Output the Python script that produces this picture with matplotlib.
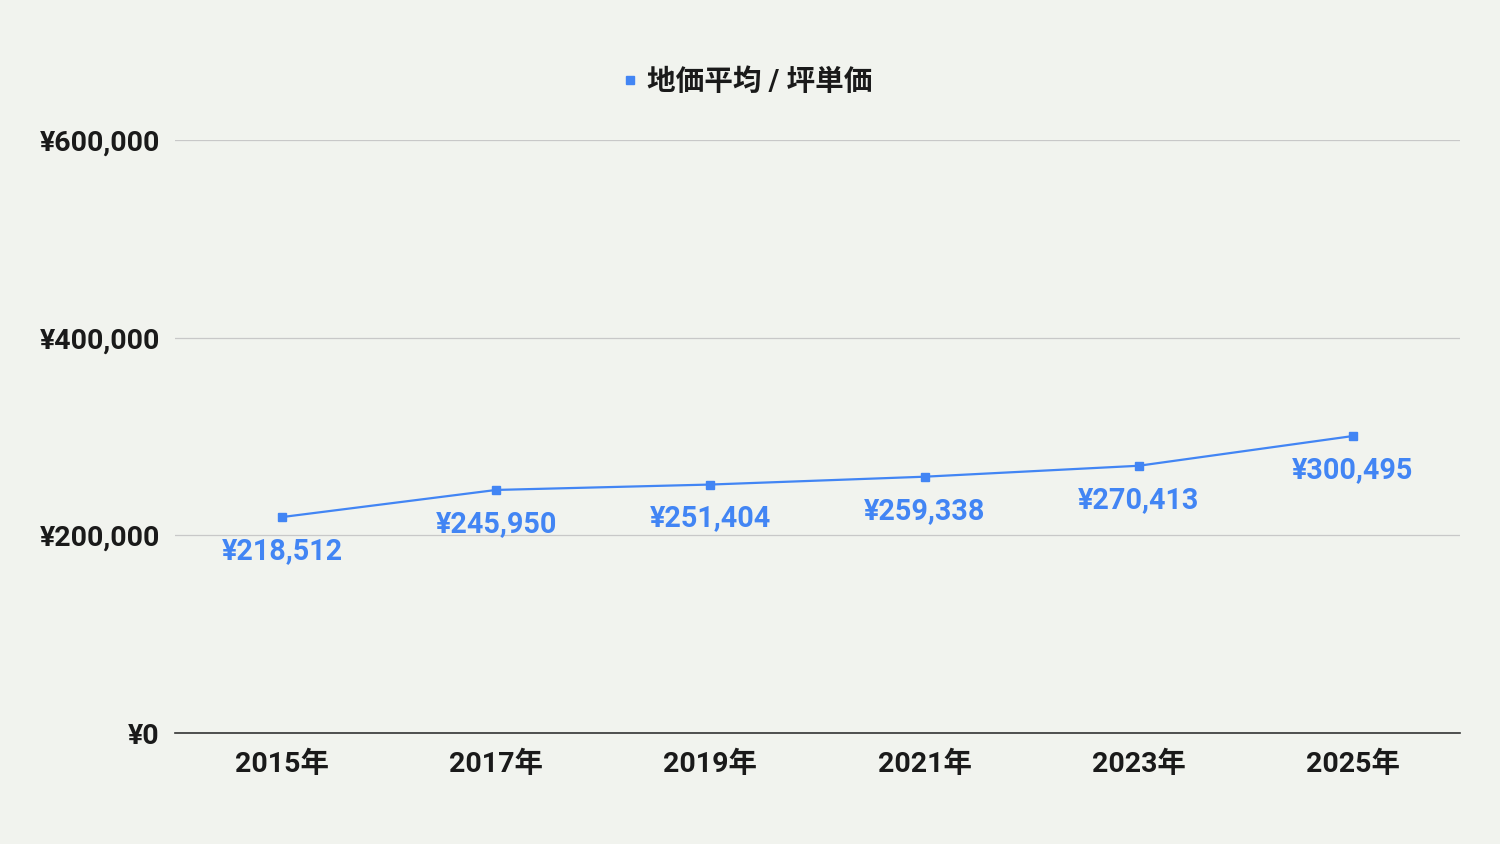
import matplotlib
matplotlib.use("Agg")
import matplotlib.pyplot as plt
from matplotlib.ticker import FuncFormatter

plt.rcParams['font.family'] = ['Roboto', 'Noto Sans CJK JP', 'DejaVu Sans']

years = ['2015年', '2017年', '2019年', '2021年', '2023年', '2025年']
prices = [218512, 245950, 251404, 259338, 270413, 300495]
series_name = '地価平均 / 坪単価'

bg = '#f1f3ee'
blue = '#4285f4'

fig = plt.figure(figsize=(15, 8.44), dpi=100, facecolor=bg)
ax = fig.add_axes([0.1167, 0.1315, 0.8566, 0.7026])
ax.set_facecolor(bg)

x = range(len(years))
ax.plot(x, prices, color=blue, lw=1.6, marker='s', ms=6, label=series_name)

for xi, v in zip(x, prices):
    ax.annotate('¥{:,}'.format(v), (xi, v), xytext=(0, -24.5), textcoords='offset points',
                ha='center', va='center', fontsize=20.7, fontweight='bold', color=blue)

ax.set_xlim(-0.5, len(years) - 0.5)
ax.set_ylim(0, 600000)
ax.set_yticks([0, 200000, 400000, 600000])
ax.yaxis.set_major_formatter(FuncFormatter(lambda v, p: '¥{:,}'.format(int(v))))
ax.set_xticks(list(x))
ax.set_xticklabels(years)
ax.tick_params(axis='y', length=0, labelsize=20.5, pad=11)
ax.tick_params(axis='x', length=0, labelsize=20.5, pad=13)
for lab in ax.get_xticklabels() + ax.get_yticklabels():
    lab.set_fontweight('bold')
    lab.set_color('#1a1a1a')

ax.grid(axis='y', color='#c8c8c8', lw=0.9)
ax.set_axisbelow(True)
for s in ['top', 'right', 'left']:
    ax.spines[s].set_visible(False)
ax.spines['bottom'].set_color('#333333')
ax.spines['bottom'].set_linewidth(1.2)

leg = fig.legend(handles=[plt.Line2D([], [], color=blue, marker='s', ls='none', ms=6)],
                 labels=[series_name], loc='center', bbox_to_anchor=(0.4967, 0.903),
                 frameon=False, handletextpad=0.2, handlelength=0.8,
                 prop={'weight': 'bold', 'size': 20.6})
for t in leg.get_texts():
    t.set_color('#1a1a1a')

fig.savefig('out.png', dpi=100, facecolor=bg)
